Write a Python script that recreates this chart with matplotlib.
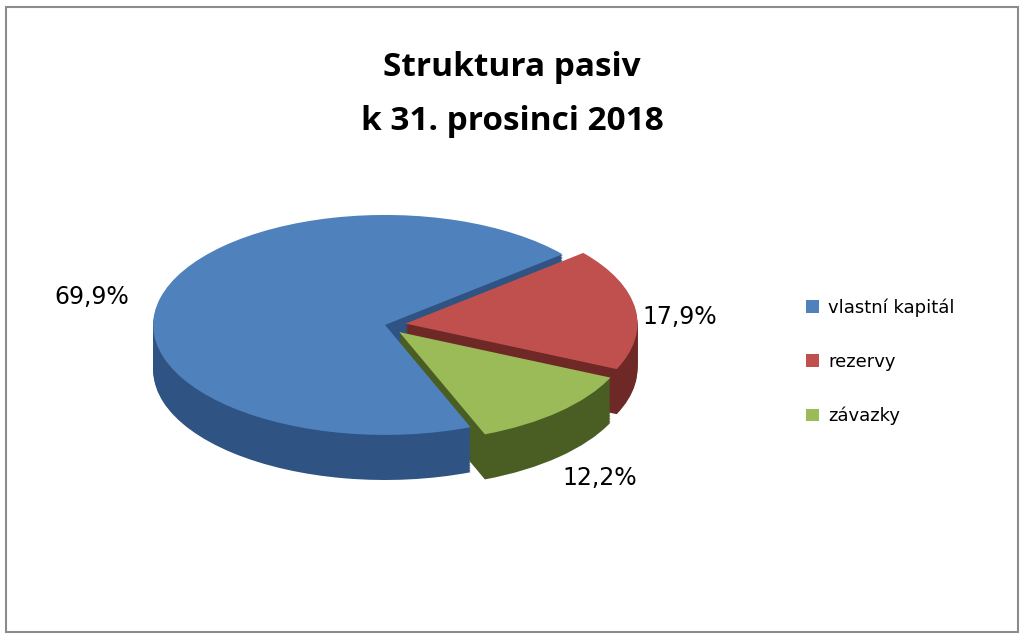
import matplotlib.pyplot as plt
import numpy as np
from matplotlib.patches import Rectangle, Patch

# data
labels = ['vlastní kapitál', 'rezervy', 'závazky']
values = [69.9, 17.9, 12.2]
top_colors = ['#4f81bd', '#c0504d', '#9bbb59']
side_colors = ['#2f5382', '#6e2826', '#4a5e24']

fig = plt.figure(figsize=(10.24, 6.39), dpi=100)
fig.patches.append(Rectangle((6 / 1024, 7 / 639), 1012 / 1024, 625 / 639,
                             transform=fig.transFigure, fill=False,
                             edgecolor='#8c8c8c', linewidth=1.5))

ax = fig.add_axes([130 / 1024, (639 - 480) / 639, 510 / 1024, 280 / 639])

# pie order drawn clockwise: rezervy, závazky, vlastní kapitál
order = [1, 2, 0]
vals = [values[i] for i in order]
explode = [0.09, 0.09, 0.0]
depth = 0.41
for d in np.linspace(depth, 0.0, 30):
    cols = [side_colors[i] for i in order] if d > 0 else [top_colors[i] for i in order]
    ax.pie(vals, colors=cols, startangle=40, counterclock=False,
           explode=explode, center=(0, -d), radius=1.0,
           wedgeprops={'linewidth': 0})
ax.set_aspect('auto')
ax.set_xlim(-1.1, 1.1)
ax.set_ylim(-1.41, 1.136)
ax.axis('off')

fig.text(0.5, 1 - 68 / 639, 'Struktura pasiv', ha='center', va='center',
         fontsize=24, fontweight='bold', family='Open Sans')
fig.text(0.5, 1 - 122 / 639, 'k 31. prosinci 2018', ha='center', va='center',
         fontsize=24, fontweight='bold', family='Open Sans')

fig.text(92 / 1024, 1 - 297 / 639, '69,9%', ha='center', va='center', fontsize=17)
fig.text(680 / 1024, 1 - 317 / 639, '17,9%', ha='center', va='center', fontsize=17)
fig.text(600 / 1024, 1 - 478 / 639, '12,2%', ha='center', va='center', fontsize=17)

handles = [Patch(facecolor=c) for c in top_colors]
fig.legend(handles, labels, loc='upper left', bbox_to_anchor=(790 / 1024, 1 - 282 / 639),
           frameon=False, fontsize=13, handlelength=0.7, handleheight=0.7,
           handletextpad=0.5, labelspacing=2.0)

fig.savefig('out.png', dpi=100)
